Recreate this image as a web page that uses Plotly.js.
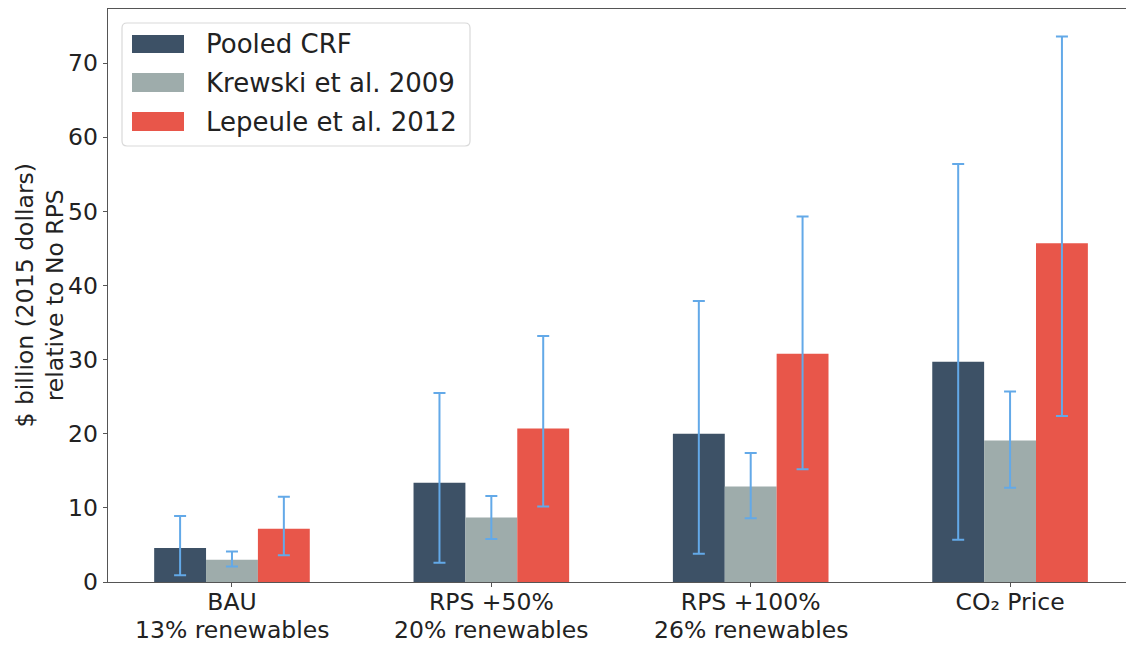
<!DOCTYPE html>
<html>
<head>
<meta charset="utf-8">
<script src="https://cdn.plot.ly/plotly-3.0.1.min.js"></script>
<style>
  html, body { margin: 0; padding: 0; background: #ffffff; }
  #chart { width: 1126px; height: 645px; }
</style>
</head>
<body>
<div id="chart"></div>
<script>
// ---- data ----
const categories = ["BAU", "RPS +50%", "RPS +100%", "CO\u2082 Price"];
const subLabels  = ["13% renewables", "20% renewables", "26% renewables", ""];
const seriesNames = ["Pooled CRF", "Krewski et al. 2009", "Lepeule et al. 2012"];
const yTitle = "$ billion (2015 dollars)<br>relative to No RPS";

const pooled   = [4.6, 13.4, 20.0, 29.7];
const pooledLo = [0.9, 2.6, 3.8, 5.7];
const pooledHi = [8.9, 25.5, 37.9, 56.4];

const krewski   = [3.0, 8.7, 12.9, 19.1];
const krewskiLo = [2.1, 5.8, 8.6, 12.7];
const krewskiHi = [4.1, 11.6, 17.4, 25.7];

const lepeule   = [7.2, 20.7, 30.8, 45.7];
const lepeuleLo = [3.6, 10.2, 15.2, 22.4];
const lepeuleHi = [11.5, 33.2, 49.3, 73.6];

const yTicks = [0, 10, 20, 30, 40, 50, 60, 70];

// ---- styling ----
const colors = ["#3d5166", "#9eacab", "#e8564a"];
const errColor = "#63a9e8";
const textColor = "#222222";
const fontFamily = "DejaVu Sans, sans-serif";
const fs = 23.5;

const W = 1126, H = 645;
const M = { l: 108, r: 0, t: 9, b: 63 };
const plotW = W - M.l - M.r, plotH = H - M.t - M.b;
const px2x = px => (px - M.l) / plotW;
const py2y = py => (H - M.b - py) / plotH;

function barTrace(name, vals, lo, hi, color) {
  return {
    type: "bar",
    name: name,
    x: categories,
    y: vals,
    marker: { color: color, line: { width: 0 } },
    error_y: {
      type: "data",
      symmetric: false,
      array: hi.map((h, i) => h - vals[i]),
      arrayminus: lo.map((l, i) => vals[i] - l),
      color: errColor,
      thickness: 2,
      width: 6
    },
    showlegend: false,
    hoverinfo: "x+y"
  };
}

const data = [
  barTrace(seriesNames[0], pooled, pooledLo, pooledHi, colors[0]),
  barTrace(seriesNames[1], krewski, krewskiLo, krewskiHi, colors[1]),
  barTrace(seriesNames[2], lepeule, lepeuleLo, lepeuleHi, colors[2])
];

// ---- custom legend (matplotlib-like wide swatches) ----
const shapes = [];
const annotations = [];
{
  const x0 = px2x(122), x1 = px2x(470), yT = py2y(23), yB = py2y(146);
  const rx = 5 / plotW, ry = 5 / plotH;
  const path = `M ${x0 + rx},${yT} L ${x1 - rx},${yT} Q ${x1},${yT} ${x1},${yT - ry} ` +
               `L ${x1},${yB + ry} Q ${x1},${yB} ${x1 - rx},${yB} ` +
               `L ${x0 + rx},${yB} Q ${x0},${yB} ${x0},${yB + ry} ` +
               `L ${x0},${yT - ry} Q ${x0},${yT} ${x0 + rx},${yT} Z`;
  shapes.push({ type: "path", xref: "paper", yref: "paper", path: path,
                fillcolor: "rgba(255,255,255,0.85)", line: { color: "#d9d9d9", width: 1.2 }, layer: "above" });
  const rows = [[35, 53], [73, 92], [112, 131]];
  rows.forEach((r, i) => {
    shapes.push({ type: "rect", xref: "paper", yref: "paper",
                  x0: px2x(132), x1: px2x(184), y0: py2y(r[1]), y1: py2y(r[0]),
                  fillcolor: colors[i], line: { width: 0 }, layer: "above" });
    annotations.push({ xref: "paper", yref: "paper", x: px2x(204), y: py2y((r[0] + r[1]) / 2),
                       xanchor: "left", yanchor: "middle", showarrow: false,
                       text: seriesNames[i], font: { family: fontFamily, size: 26, color: textColor } });
  });
}

// second line of the category labels
categories.forEach((c, i) => {
  if (!subLabels[i]) return;
  annotations.push({ xref: "x", yref: "paper", x: c, y: py2y(630),
                     xanchor: "center", yanchor: "middle", showarrow: false, height: 24,
                     text: subLabels[i], font: { family: fontFamily, size: fs, color: textColor } });
});

// y-axis title (placed like matplotlib's ylabel)
annotations.push({ xref: "paper", yref: "paper", x: px2x(40), y: 0.5,
                   xanchor: "center", yanchor: "middle", showarrow: false, textangle: -90,
                   text: yTitle, font: { family: fontFamily, size: fs, color: textColor } });

const layout = {
  width: W, height: H,
  margin: M,
  paper_bgcolor: "#ffffff",
  plot_bgcolor: "#ffffff",
  font: { family: fontFamily, size: fs, color: textColor },
  barmode: "group",
  bargap: 0.4,
  bargroupgap: 0,
  xaxis: {
    type: "category",
    range: [-0.478, 3.447],
    showgrid: false,
    zeroline: false,
    showline: true,
    linecolor: "#555555",
    linewidth: 1.3,
    mirror: true,
    ticks: "outside",
    ticklen: 4,
    tickwidth: 1,
    tickcolor: "#555555",
    ticklabelstandoff: -6,
    tickfont: { family: fontFamily, size: fs, color: textColor }
  },
  yaxis: {
    range: [0, 77.3],
    tickvals: yTicks,
    ticktext: yTicks.map(String),
    showgrid: false,
    zeroline: false,
    showline: true,
    linecolor: "#555555",
    linewidth: 1.3,
    ticks: "outside",
    ticklen: 4,
    tickwidth: 1,
    tickcolor: "#555555",
    tickfont: { family: fontFamily, size: fs, color: textColor }
  },
  shapes: shapes,
  annotations: annotations
};

Plotly.newPlot("chart", data, layout, { displayModeBar: false, staticPlot: true });
</script>
</body>
</html>
